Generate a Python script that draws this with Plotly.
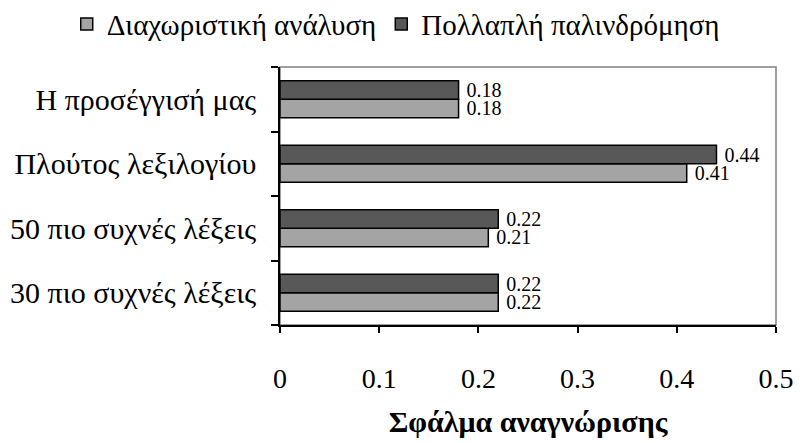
import plotly.graph_objects as go

categories = ["30 πιο συχνές λέξεις", "50 πιο συχνές λέξεις", "Πλούτος λεξιλογίου", "Η προσέγγισή μας"]
series_names = ["Διαχωριστική ανάλυση", "Πολλαπλή παλινδρόμηση"]
discriminant = [0.22, 0.21, 0.41, 0.18]
regression = [0.22, 0.22, 0.44, 0.18]
x_ticks = [0, 0.1, 0.2, 0.3, 0.4, 0.5]
x_title = "Σφάλμα αναγνώρισης"

FONT = "Liberation Serif"

fig = go.Figure()
fig.add_trace(go.Bar(
    y=categories, x=discriminant, orientation="h", name=series_names[0],
    marker=dict(color="#a4a4a4", line=dict(color="#000000", width=1.5)),
    texttemplate="&nbsp;%{x:.2f}", textposition="outside", constraintext="none",
    textfont=dict(family=FONT, size=20, color="#000000"), cliponaxis=False,
))
fig.add_trace(go.Bar(
    y=categories, x=regression, orientation="h", name=series_names[1],
    marker=dict(color="#585858", line=dict(color="#000000", width=1.5)),
    texttemplate="&nbsp;%{x:.2f}", textposition="outside", constraintext="none",
    textfont=dict(family=FONT, size=20, color="#000000"), cliponaxis=False,
))

# page body has an 8px margin: figure is 8px smaller and margins shifted accordingly
fig.update_layout(
    width=795, height=435,
    margin=dict(l=272, r=27, t=59, b=118, autoexpand=False),
    paper_bgcolor="white", plot_bgcolor="white",
    barmode="group", bargap=0.43, bargroupgap=0,
    font=dict(family=FONT, size=29, color="#000000"),
    showlegend=True,
    legend=dict(orientation="h", xref="paper", x=-0.43, xanchor="left",
                yref="paper", y=1.166, yanchor="middle",
                font=dict(family=FONT, size=29, color="#000000"), traceorder="normal",
                itemwidth=30, tracegroupgap=0, bgcolor="rgba(0,0,0,0)"),
    shapes=[dict(type="rect", xref="paper", yref="paper", x0=0, x1=1, y0=0, y1=1,
                 line=dict(color="#808080", width=1.5), layer="below")],
)
fig.update_xaxes(
    range=[0, 0.5], tickvals=x_ticks, ticktext=[str(t) for t in x_ticks],
    showgrid=False, zeroline=False, showline=True, linecolor="#000000", linewidth=1.5,
    ticks="outside", ticklen=6, tickcolor="#000000", tickwidth=1.5, automargin=False,
    tickfont=dict(family=FONT, size=28), ticklabelstandoff=22,
    title=dict(text="<b>" + x_title + "</b>", font=dict(family=FONT, size=30), standoff=18),
)
fig.update_yaxes(
    categoryorder="array", categoryarray=categories,
    showgrid=False, zeroline=False, showline=True, linecolor="#000000", linewidth=1.5,
    ticks="outside", ticklen=7, tickcolor="#000000", tickwidth=1.5, tickson="boundaries",
    automargin=False, tickfont=dict(family=FONT, size=30), ticklabelstandoff=16,
)

fig.write_html("out.html")
